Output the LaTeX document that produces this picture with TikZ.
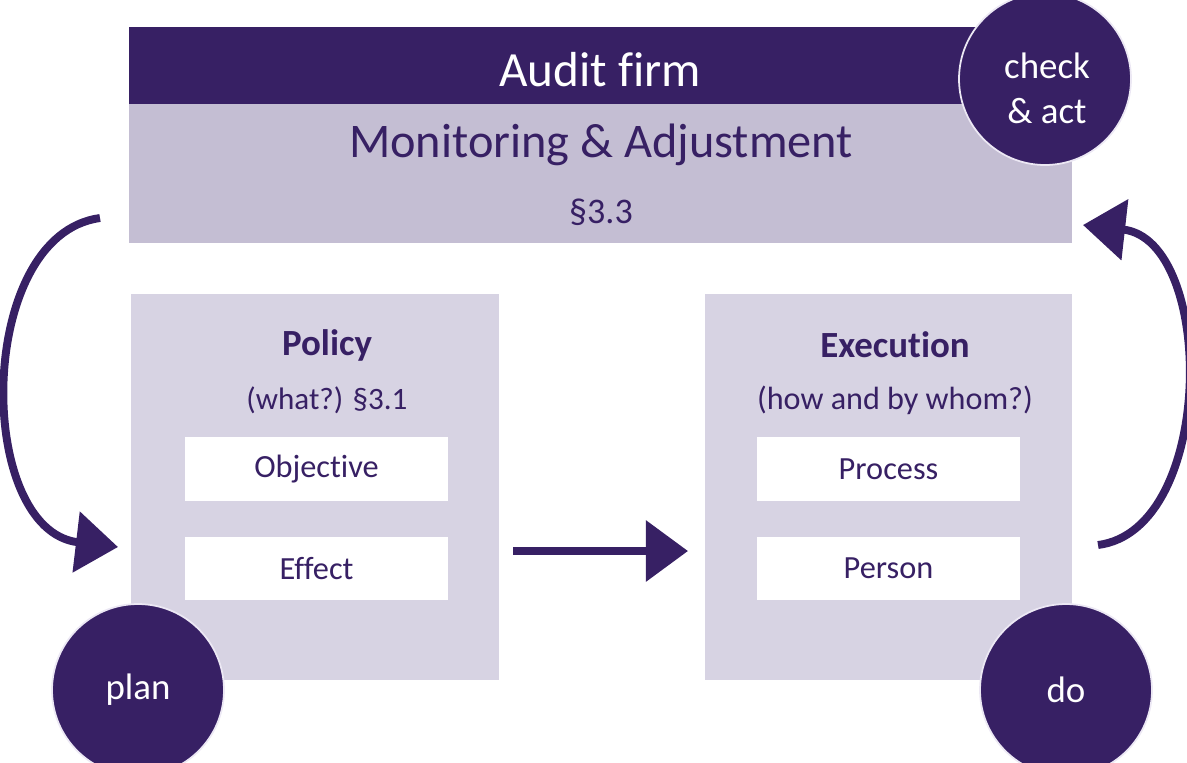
\documentclass[tikz,border=0pt]{standalone}
\usepackage{fontspec}
\setmainfont{Carlito}[RawFeature={-liga;-clig;-dlig;-calt}]
\usepackage{tikz}
\usetikzlibrary{arrows.meta, positioning, calc}
\definecolor{auprimary}{HTML}{372064}
\definecolor{auband}{HTML}{C4BED3}
\definecolor{aubox}{HTML}{D7D3E3}
\definecolor{auring}{HTML}{ECE8F4}

\begin{document}
\begin{tikzpicture}[
    x=0.02cm, y=-0.02cm,
    panel/.style={rectangle, fill=#1, inner sep=0pt},
    item/.style={rectangle, fill=white, inner sep=0pt, minimum width=5.26cm, minimum height=1.27cm, text=auprimary, font=\fontsize{18.4}{20}\selectfont},
    phase/.style={circle, fill=auprimary, draw=auring, line width=1pt, minimum size=3.44cm, inner sep=0pt, align=center, text=white, font=\fontsize{21}{25.6}\selectfont},
    flow/.style={line width=4.5pt, color=auprimary, -{Triangle[length=24pt, width=34pt]}},
]
\useasboundingbox (0,0) rectangle (1187,762);

% Audit firm
\node[panel=auprimary, minimum width=18.86cm, minimum height=1.54cm] (firm) at (600.5,65.5) {};
\node[panel=auband, minimum width=18.86cm, minimum height=2.78cm] (monitor) at (600.5,173.5) {};
\node[text=white, font=\fontsize{28}{30}\selectfont] (firmtxt) at (600,70) {Audit firm};
\node[text=auprimary, font=\fontsize{27.5}{30}\selectfont] (montxt) at (601,145) {Monitoring \& Adjustment};
\node[text=auprimary, font=\fontsize{20.5}{22}\selectfont] (montag) at (601,212) {§3.3};

% Policy and Execution
\node[panel=aubox, minimum width=7.36cm, minimum height=7.72cm] (policy) at (315,487) {};
\node[panel=aubox, minimum width=7.34cm, minimum height=7.72cm] (exec) at (888.5,487) {};
\node[text=auprimary, font=\fontsize{21}{23}\selectfont\bfseries] (poltitle) at (327,345) {Policy};
\node[text=auprimary, font=\fontsize{17.7}{19}\selectfont] (polsub) at (327,400) {(what?) §3.1};
\node[text=auprimary, font=\fontsize{21}{23}\selectfont\bfseries] (exectitle) at (895,345) {Execution};
\node[text=auprimary, font=\fontsize{18.3}{20}\selectfont] (execsub) at (895,400) {(how and by whom?)};

\foreach \n/\x/\y/\t in {objective/316.5/469/Objective, effect/316.5/568.5/Effect, process/888.5/469/Process, person/888.5/568.5/Person} {
    \node[item] (\n) at (\x,\y) {\t};
}

% cycle arrows
\coordinate (planfrom) at (100,218);
\coordinate (planto) at (118,547);
\coordinate (dofrom) at (513,551);
\coordinate (doto) at (688,551);
\coordinate (checkfrom) at (1098,545);
\coordinate (checkto) at (1083,225);
\draw[flow] (planfrom) .. controls (-25,235) and (-25,530) .. (planto);
\draw[flow] (dofrom) -- (doto);
\draw[flow] (checkfrom) .. controls (1216,530) and (1216,240) .. (checkto);

% phases
\node[phase] (plan) at (138,690) {plan};
\node[phase] (do) at (1066,690) {do};
\node[phase] (check) at (1045,79) {};
\node[text=white, align=center, font=\fontsize{21}{25.6}\selectfont] (checktxt) at (1047,88) {check\\\& act};

\end{tikzpicture}
\end{document}
